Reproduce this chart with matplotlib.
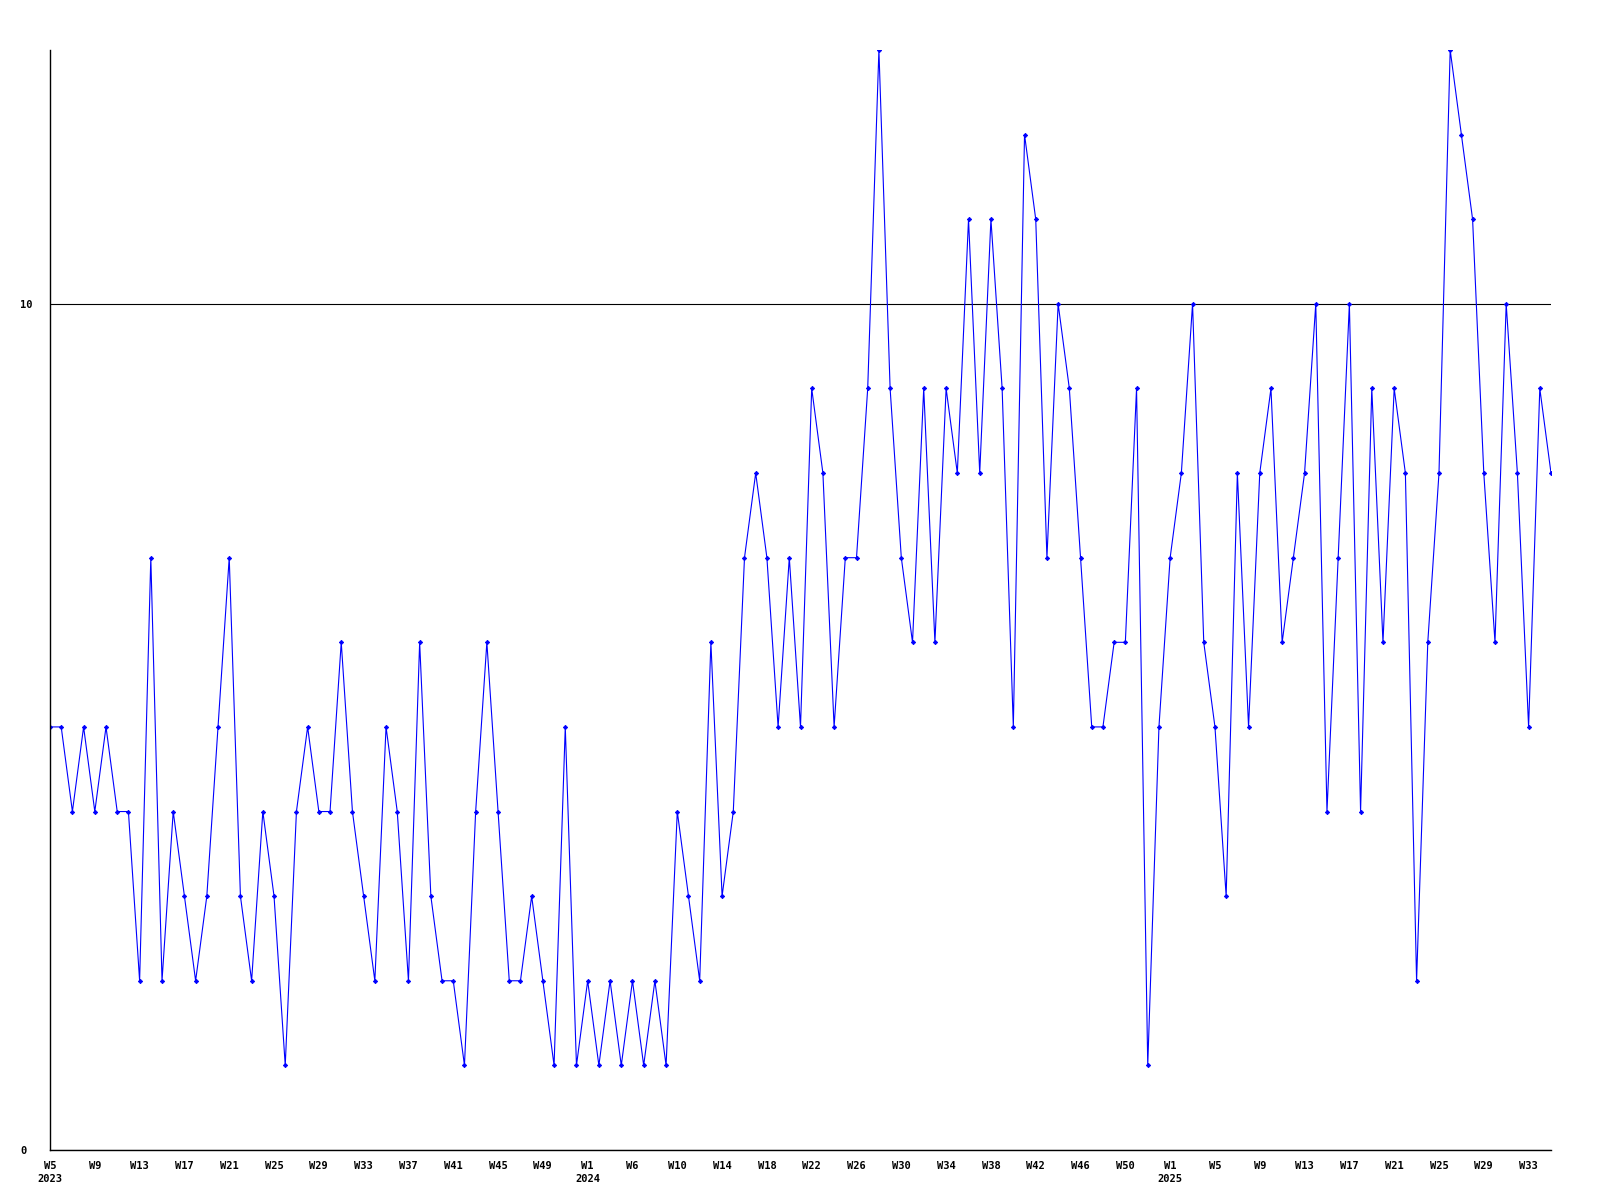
import matplotlib
matplotlib.use("Agg")
import matplotlib.pyplot as plt
import matplotlib.transforms as mtransforms

# weekly counts, W5 2023 .. W35 2025
values_2023 = [5, 5, 4, 5, 4, 5, 4, 4, 2, 7, 2, 4, 3, 2, 3, 5, 7, 3, 2, 4,
               3, 1, 4, 5, 4, 4, 6, 4, 3, 2, 5, 4, 2, 6, 3, 2, 2, 1, 4, 6,
               4, 2, 2, 3, 2, 1, 5, 1]
values_2024 = [2, 1, 2, 1, 2, 1, 2, 1, 4, 3, 2, 6, 3, 4, 7, 8, 7, 5, 7, 5,
               9, 8, 5, 7, 7, 9, 13, 9, 7, 6, 9, 6, 9, 8, 11, 8, 11, 9, 5, 12,
               11, 7, 10, 9, 7, 5, 5, 6, 6, 9, 1, 5]
values_2025 = [7, 8, 10, 6, 5, 3, 8, 5, 8, 9, 6, 7, 8, 10, 4, 7, 10, 4, 9, 6,
               9, 8, 2, 6, 8, 13, 12, 11, 8, 6, 10, 8, 5, 9, 8]

values = values_2023 + values_2024 + values_2025

# x tick labels, one every 4 weeks
tick_labels = ["W5\n2023", "W9", "W13", "W17", "W21", "W25", "W29", "W33",
               "W37", "W41", "W45", "W49",
               "W1\n2024", "W6", "W10", "W14", "W18", "W22", "W26", "W30",
               "W34", "W38", "W42", "W46", "W50",
               "W1\n2025", "W5", "W9", "W13", "W17", "W21", "W25", "W29", "W33"]
y_ticks = [0, 10]

fig = plt.figure(figsize=(16, 12), dpi=100)
ax = fig.add_axes([50 / 1600, 50 / 1200, 1501 / 1600, 1100 / 1200])

x = list(range(len(values)))
ax.plot(x, values, color="#0000ff", linewidth=0.8,
        marker="D", markersize=2.2, markeredgewidth=0.6)

ax.set_xlim(0, len(values) - 1)
ax.set_ylim(0, 13)

ax.set_xticks(list(range(0, 4 * len(tick_labels), 4)))
ax.set_xticklabels(tick_labels, fontfamily="DejaVu Sans Mono",
                   fontweight="bold", fontsize=7.5, linespacing=1.35,
                   va="top")
# labels sit a little left of their week in the original
shift = mtransforms.ScaledTranslation(-4 / 100, 0, fig.dpi_scale_trans)
for lab in ax.get_xticklabels():
    lab.set_transform(lab.get_transform() + shift)

ax.set_yticks(y_ticks)
ax.set_yticklabels([str(v) for v in y_ticks], fontfamily="DejaVu Sans Mono",
                   fontweight="bold", fontsize=7.5)
for lab in ax.get_yticklabels():
    lab.set_horizontalalignment("left")

ax.tick_params(axis="x", length=0, pad=8)
ax.tick_params(axis="y", length=0, pad=21.5)

ax.yaxis.grid(True, color="black", linewidth=0.8)
ax.set_axisbelow(True)

for side in ["top", "right"]:
    ax.spines[side].set_visible(False)
for side in ["left", "bottom"]:
    ax.spines[side].set_color("black")
    ax.spines[side].set_linewidth(1.0)

fig.savefig("out.png", dpi=100, facecolor="white")
